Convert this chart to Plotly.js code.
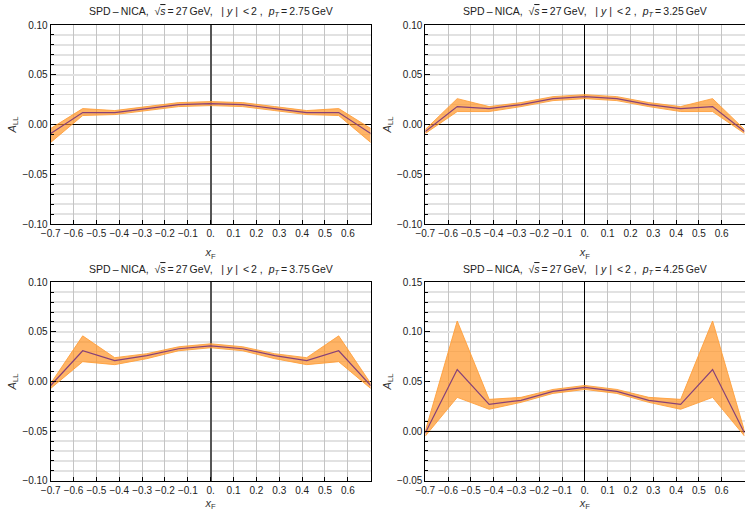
<!DOCTYPE html>
<html>
<head>
<meta charset="utf-8">
<script src="https://cdn.plot.ly/plotly-3.0.1.min.js"></script>
<style>html,body{margin:0;padding:0;background:#fff;}#chart{width:745px;height:511px;}</style>
</head>
<body>
<div id="chart"></div>
<script>
// x_F values
const xF = [-0.7, -0.56, -0.42, -0.28, -0.14, 0, 0.14, 0.28, 0.42, 0.56, 0.7];

// pT labels
const ptLabels = ["2.75", "3.25", "3.75", "4.25"];

// pT = 2.75 GeV
const c275 = [-0.009, 0.012, 0.012, 0.016, 0.020, 0.021, 0.020, 0.016, 0.012, 0.012, -0.009];
const u275 = [-0.004, 0.016, 0.014, 0.018, 0.022, 0.023, 0.022, 0.018, 0.014, 0.016, -0.004];
const l275 = [-0.018, 0.009, 0.010, 0.014, 0.018, 0.019, 0.018, 0.014, 0.010, 0.009, -0.018];

// pT = 3.25 GeV
const c325 = [-0.007, 0.018, 0.016, 0.020, 0.026, 0.028, 0.026, 0.020, 0.016, 0.018, -0.007];
const u325 = [-0.005, 0.026, 0.018, 0.022, 0.028, 0.030, 0.028, 0.022, 0.018, 0.026, -0.005];
const l325 = [-0.009, 0.013, 0.013, 0.018, 0.024, 0.026, 0.024, 0.018, 0.013, 0.013, -0.009];

// pT = 3.75 GeV
const c375 = [-0.004, 0.031, 0.021, 0.026, 0.033, 0.036, 0.033, 0.026, 0.021, 0.031, -0.004];
const u375 = [-0.002, 0.046, 0.024, 0.028, 0.035, 0.038, 0.035, 0.028, 0.024, 0.046, -0.002];
const l375 = [-0.007, 0.020, 0.017, 0.023, 0.031, 0.034, 0.031, 0.023, 0.017, 0.020, -0.007];

// pT = 4.25 GeV
const c425 = [-0.002, 0.062, 0.027, 0.031, 0.040, 0.044, 0.040, 0.031, 0.027, 0.062, -0.002];
const u425 = [0.000, 0.111, 0.032, 0.034, 0.042, 0.046, 0.042, 0.034, 0.032, 0.111, 0.000];
const l425 = [-0.005, 0.034, 0.022, 0.029, 0.038, 0.042, 0.038, 0.029, 0.022, 0.034, -0.005];

// tick labels
const xTickVals = [-0.7, -0.6, -0.5, -0.4, -0.3, -0.2, -0.1, 0, 0.1, 0.2, 0.3, 0.4, 0.5, 0.6];
const xTickText = ["\u22120.7", "\u22120.6", "\u22120.5", "\u22120.4", "\u22120.3", "\u22120.2", "\u22120.1", "0.", "0.1", "0.2", "0.3", "0.4", "0.5", "0.6"];
const yTickValsA = [-0.10, -0.05, 0, 0.05, 0.10];
const yTickTextA = ["\u22120.10", "\u22120.05", "0.00", "0.05", "0.10"];
const yTickValsB = [-0.05, 0, 0.05, 0.10, 0.15];
const yTickTextB = ["\u22120.05", "0.00", "0.05", "0.10", "0.15"];

const centers = [c275, c325, c375, c425];
const uppers = [u275, u325, u375, u425];
const lowers = [l275, l325, l375, l425];

const bandFill = 'rgba(255,145,30,0.68)';
const bandEdge = 'rgba(255,160,60,0.9)';
const lineColor = 'rgb(135,65,120)';

const traces = [];
for (let i = 0; i < 4; i++) {
  const ax = i === 0 ? '' : String(i + 1);
  traces.push({x: xF, y: lowers[i], xaxis: 'x' + ax, yaxis: 'y' + ax, mode: 'lines',
    line: {color: bandEdge, width: 1}, hoverinfo: 'skip', showlegend: false});
  traces.push({x: xF, y: uppers[i], xaxis: 'x' + ax, yaxis: 'y' + ax, mode: 'lines',
    fill: 'tonexty', fillcolor: bandFill, line: {color: bandEdge, width: 1}, hoverinfo: 'skip', showlegend: false});
  traces.push({x: xF, y: centers[i], xaxis: 'x' + ax, yaxis: 'y' + ax, mode: 'lines',
    line: {color: lineColor, width: 1.2}, showlegend: false});
}

const W = 745, H = 511;
const xDomL = [50.7 / W, 370.7 / W];
const xDomR = [425.3 / W, 744.5 / W];
const yDomT = [(H - 224) / H, (H - 25) / H];
const yDomB = [(H - 480.7) / H, (H - 282.3) / H];

const tickFont = {family: 'Liberation Sans, Arial, sans-serif', size: 10, color: '#222'};
const titleFont = {family: 'Liberation Sans, Arial, sans-serif', size: 11, color: '#333'};

function xAxis(domain, anchor, zcol, zw) {
  return {
    domain: domain, anchor: anchor, range: [-0.7, 0.7], autorange: false,
    tickvals: xTickVals, ticktext: xTickText, tickfont: tickFont,
    ticks: 'inside', ticklen: 4, tickcolor: '#000', tickwidth: 1,
    showgrid: true, gridcolor: '#c4c4c4', gridwidth: 1,
    zeroline: true, zerolinecolor: zcol, zerolinewidth: zw,
    showline: true, linecolor: '#000', linewidth: 1, mirror: true,
    title: {text: '<i>x</i><sub>F</sub>', font: titleFont, standoff: 10},
    automargin: false, fixedrange: true
  };
}
function yAxis(domain, anchor, range, tv, tt) {
  return {
    domain: domain, anchor: anchor, range: range, autorange: false,
    tickvals: tv, ticktext: tt, tickfont: tickFont,
    ticks: 'inside', ticklen: 5, tickcolor: '#000', tickwidth: 1,
    showgrid: true, gridcolor: '#e2e2e2', gridwidth: 1.5,
    minor: {dtick: 0.01, tick0: 0, ticks: 'inside', ticklen: 3, tickcolor: '#000',
            showgrid: true, gridcolor: '#e2e2e2', gridwidth: 1.5},
    zeroline: true, zerolinecolor: '#000', zerolinewidth: 1.2,
    showline: true, linecolor: '#000', linewidth: 1, mirror: true,
    title: {text: '<i>A</i><sub>LL</sub>', font: titleFont, standoff: 3},
    automargin: false, fixedrange: true
  };
}

function titleText(pt) {
  return 'SPD\u2009\u2013\u2009NICA,\u00a0\u00a0\u221a<span style="text-decoration:overline"><i>s</i></span>\u2009=\u200927\u2009GeV,\u00a0\u00a0\u00a0|\u00a0<i>y</i>\u00a0|\u00a0\u2009&lt;\u20092\u00a0,\u00a0\u00a0<i>p</i><sub><i>T</i></sub>\u2009=\u2009' + pt + '\u2009GeV';
}

const annFont = {family: 'Liberation Sans, Arial, sans-serif', size: 10.5, color: '#222'};
const annotations = [
  {x: (xDomL[0] + xDomL[1]) / 2, y: (H - 12.5) / H},
  {x: (xDomR[0] + xDomR[1]) / 2, y: (H - 12.5) / H},
  {x: (xDomL[0] + xDomL[1]) / 2, y: (H - 269.5) / H},
  {x: (xDomR[0] + xDomR[1]) / 2, y: (H - 269.5) / H}
].map((p, i) => ({xref: 'paper', yref: 'paper', x: p.x, y: p.y, xanchor: 'center', yanchor: 'middle',
  showarrow: false, text: titleText(ptLabels[i]), font: annFont}));

const layout = {
  width: W, height: H, margin: {l: 0, r: 0, t: 0, b: 0},
  paper_bgcolor: '#fff', plot_bgcolor: '#fff', showlegend: false,
  xaxis: xAxis(xDomL, 'y', '#555', 2),
  yaxis: yAxis(yDomT, 'x', [-0.1, 0.1], yTickValsA, yTickTextA),
  xaxis2: xAxis(xDomR, 'y2', '#000', 1),
  yaxis2: yAxis(yDomT, 'x2', [-0.1, 0.1], yTickValsA, yTickTextA),
  xaxis3: xAxis(xDomL, 'y3', '#555', 2),
  yaxis3: yAxis(yDomB, 'x3', [-0.1, 0.1], yTickValsA, yTickTextA),
  xaxis4: xAxis(xDomR, 'y4', '#000', 1),
  yaxis4: yAxis(yDomB, 'x4', [-0.05, 0.15], yTickValsB, yTickTextB),
  annotations: annotations
};

Plotly.newPlot('chart', traces, layout, {staticPlot: true, displayModeBar: false});
</script>
</body>
</html>
